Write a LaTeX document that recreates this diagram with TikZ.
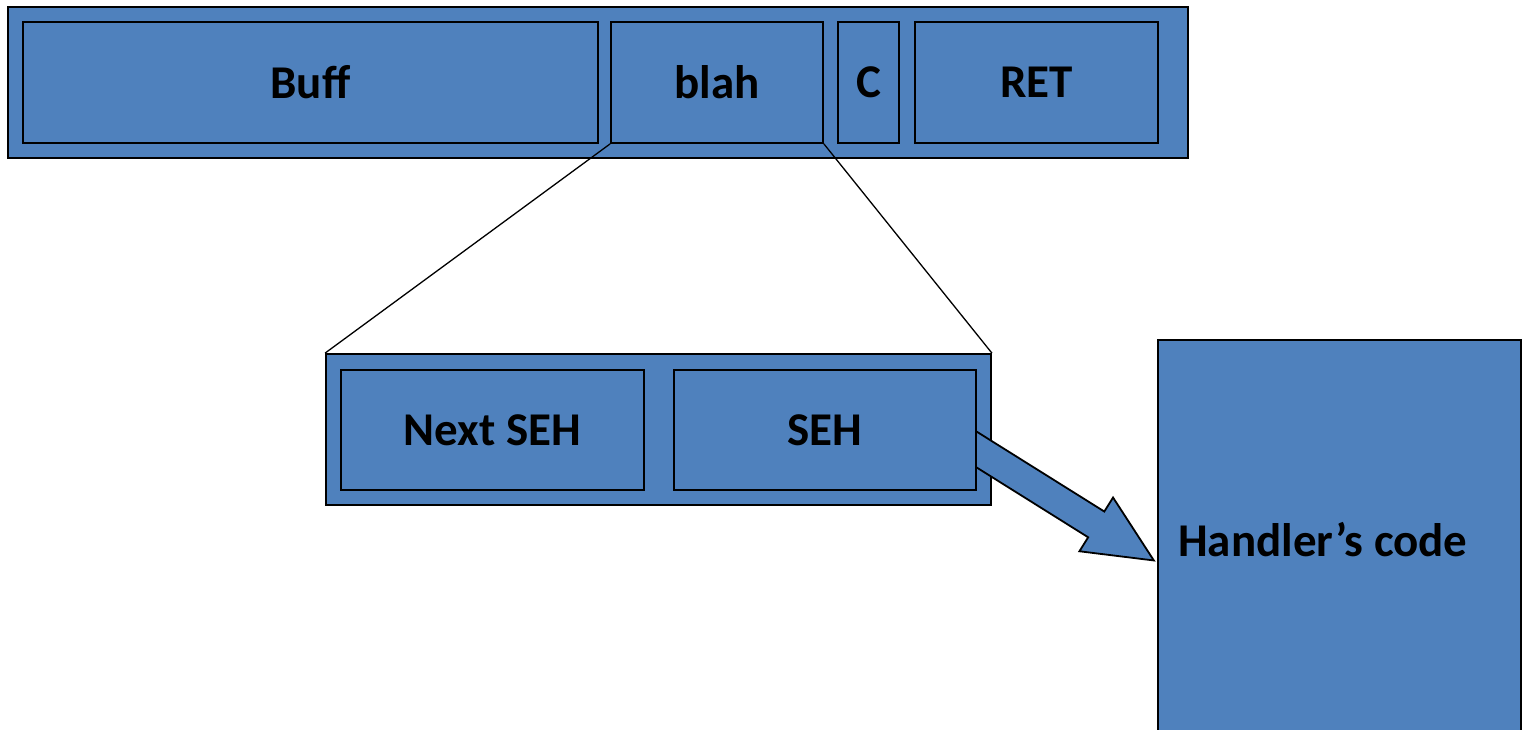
\documentclass[tikz,border=0pt]{standalone}
\usepackage{fontspec}
\setmainfont{Carlito}
\definecolor{officeBlue}{RGB}{79, 129, 189}
\usetikzlibrary{positioning, calc, shapes.arrows}

\begin{document}
\begin{tikzpicture}[
    x=1pt, y=-1pt,
    outer/.style={rectangle, draw=black, fill=officeBlue, line width=1.8pt,
                  inner sep=0pt, minimum height=151pt},
    cell/.style={rectangle, draw=black, fill=officeBlue, line width=1.8pt,
                 inner sep=0pt, minimum height=121pt,
                 font=\fontsize{47}{52}\selectfont\bfseries},
    link/.style={draw=black, line width=1.3pt},
  ]
    \clip (0,0) rectangle (1523,730);

    % stack row
    \node[outer, minimum width=1180pt] (STACK) at (598,82.5) {};
    \node[cell, minimum width=575pt] (BUFF) at (310.5,82.5) {Buff};
    \node[cell, minimum width=212pt] (BLAH) at (717,82.5) {blah};
    \node[cell, minimum width=61pt] (C) at (868.5,82.5) {C};
    \node[cell, minimum width=243pt] (RET) at (1036.5,82.5) {RET};

    % zoom on blah
    \node[outer, minimum width=665pt] (FRAME) at (658.5,429.5) {};
    \draw[link] (BLAH.south west) -- (FRAME.north west);
    \draw[link] (BLAH.south east) -- (FRAME.north east);

    % handler
    \node[cell, minimum width=363pt, minimum height=420pt] (HANDLER) at (1339.5,550) {};
    \node[anchor=west, inner sep=0pt, font=\fontsize{47}{52}\selectfont\bfseries] (HCODE)
      at (1178,540) {Handler’s code};

    % block arrow (tail hidden under SEH)
    \coordinate (TAIL) at (955,436);
    \coordinate (TIP) at ($(HANDLER.west)+(-4,10)$);
    \path let \p1=($(TIP)-(TAIL)$), \n1={atan2(\y1,\x1)}, \n2={veclen(\x1,\y1)} in
      node[single arrow, draw=black, fill=officeBlue, line width=1.8pt,
           inner xsep=0pt, inner ysep=14.3pt, single arrow head extend=16.5pt,
           single arrow tip angle=50, minimum height=\n2, rotate=\n1,
           anchor=tail] (ARROW) at (TAIL) {};

    \node[cell, minimum width=303pt, minimum height=120pt] (NEXTSEH) at (492.5,430) {Next SEH};
    \node[cell, minimum width=302pt, minimum height=120pt] (SEH) at (825,430) {SEH};
  \end{tikzpicture}
\end{document}
